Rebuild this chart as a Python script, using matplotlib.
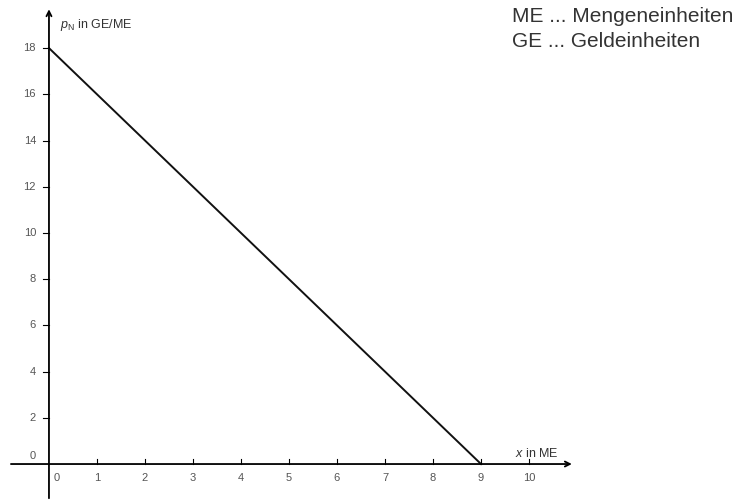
import matplotlib.pyplot as plt
import numpy as np

plt.rcParams['font.family'] = ['Liberation Sans', 'DejaVu Sans']
plt.rcParams['mathtext.fontset'] = 'custom'
plt.rcParams['mathtext.rm'] = 'Liberation Sans'
plt.rcParams['mathtext.it'] = 'Liberation Sans:italic'

x_vals = [0, 9]
p_vals = [18, 0]
x_ticks = [0, 1, 2, 3, 4, 5, 6, 7, 8, 9, 10]
y_ticks = [2, 4, 6, 8, 10, 12, 14, 16, 18]

fig = plt.figure(figsize=(7.34, 5.01), dpi=100)
ax = fig.add_axes([0, 0, 1, 1])
ax.set_xlim(-1.02, 14.27)
ax.set_ylim(-1.6, 20.08)
ax.axis('off')

# axes with arrows
ax.annotate('', xy=(10.95, 0), xytext=(-0.85, 0),
            arrowprops=dict(arrowstyle='->', color='black', lw=1.3, mutation_scale=9))
ax.annotate('', xy=(0, 19.8), xytext=(0, -1.6),
            arrowprops=dict(arrowstyle='->', color='black', lw=1.3, mutation_scale=9))

# line
ax.plot(x_vals, p_vals, color='#111111', lw=1.4)

tc = '#555555'
for t in x_ticks:
    if t != 0:
        ax.plot([t, t], [0, 0.2], color='black', lw=0.8)
    xo = 0.17 if t == 0 else 0
    ax.text(t + xo, -0.38, str(t), ha='center', va='top', fontsize=8, color=tc)
for t in y_ticks:
    ax.plot([-0.12, 0], [t, t], color='black', lw=0.8)
    ax.text(-0.27, t, str(t), ha='right', va='center', fontsize=8, color=tc)
ax.text(-0.27, 0.35, '0', ha='right', va='center', fontsize=8, color=tc)

ax.text(0.22, 19.0, r'$p_\mathrm{N}$ in GE/ME', ha='left', va='center', fontsize=9, color='#333333')
ax.text(9.7, 0.45, r'$x$ in ME', ha='left', va='center', fontsize=9, color='#333333')

ax.text(9.65, 19.35, 'ME ... Mengeneinheiten', ha='left', va='center', fontsize=15, color='#333333')
ax.text(9.65, 18.3, 'GE ... Geldeinheiten', ha='left', va='center', fontsize=15, color='#333333')

fig.savefig('out.png', dpi=100)
